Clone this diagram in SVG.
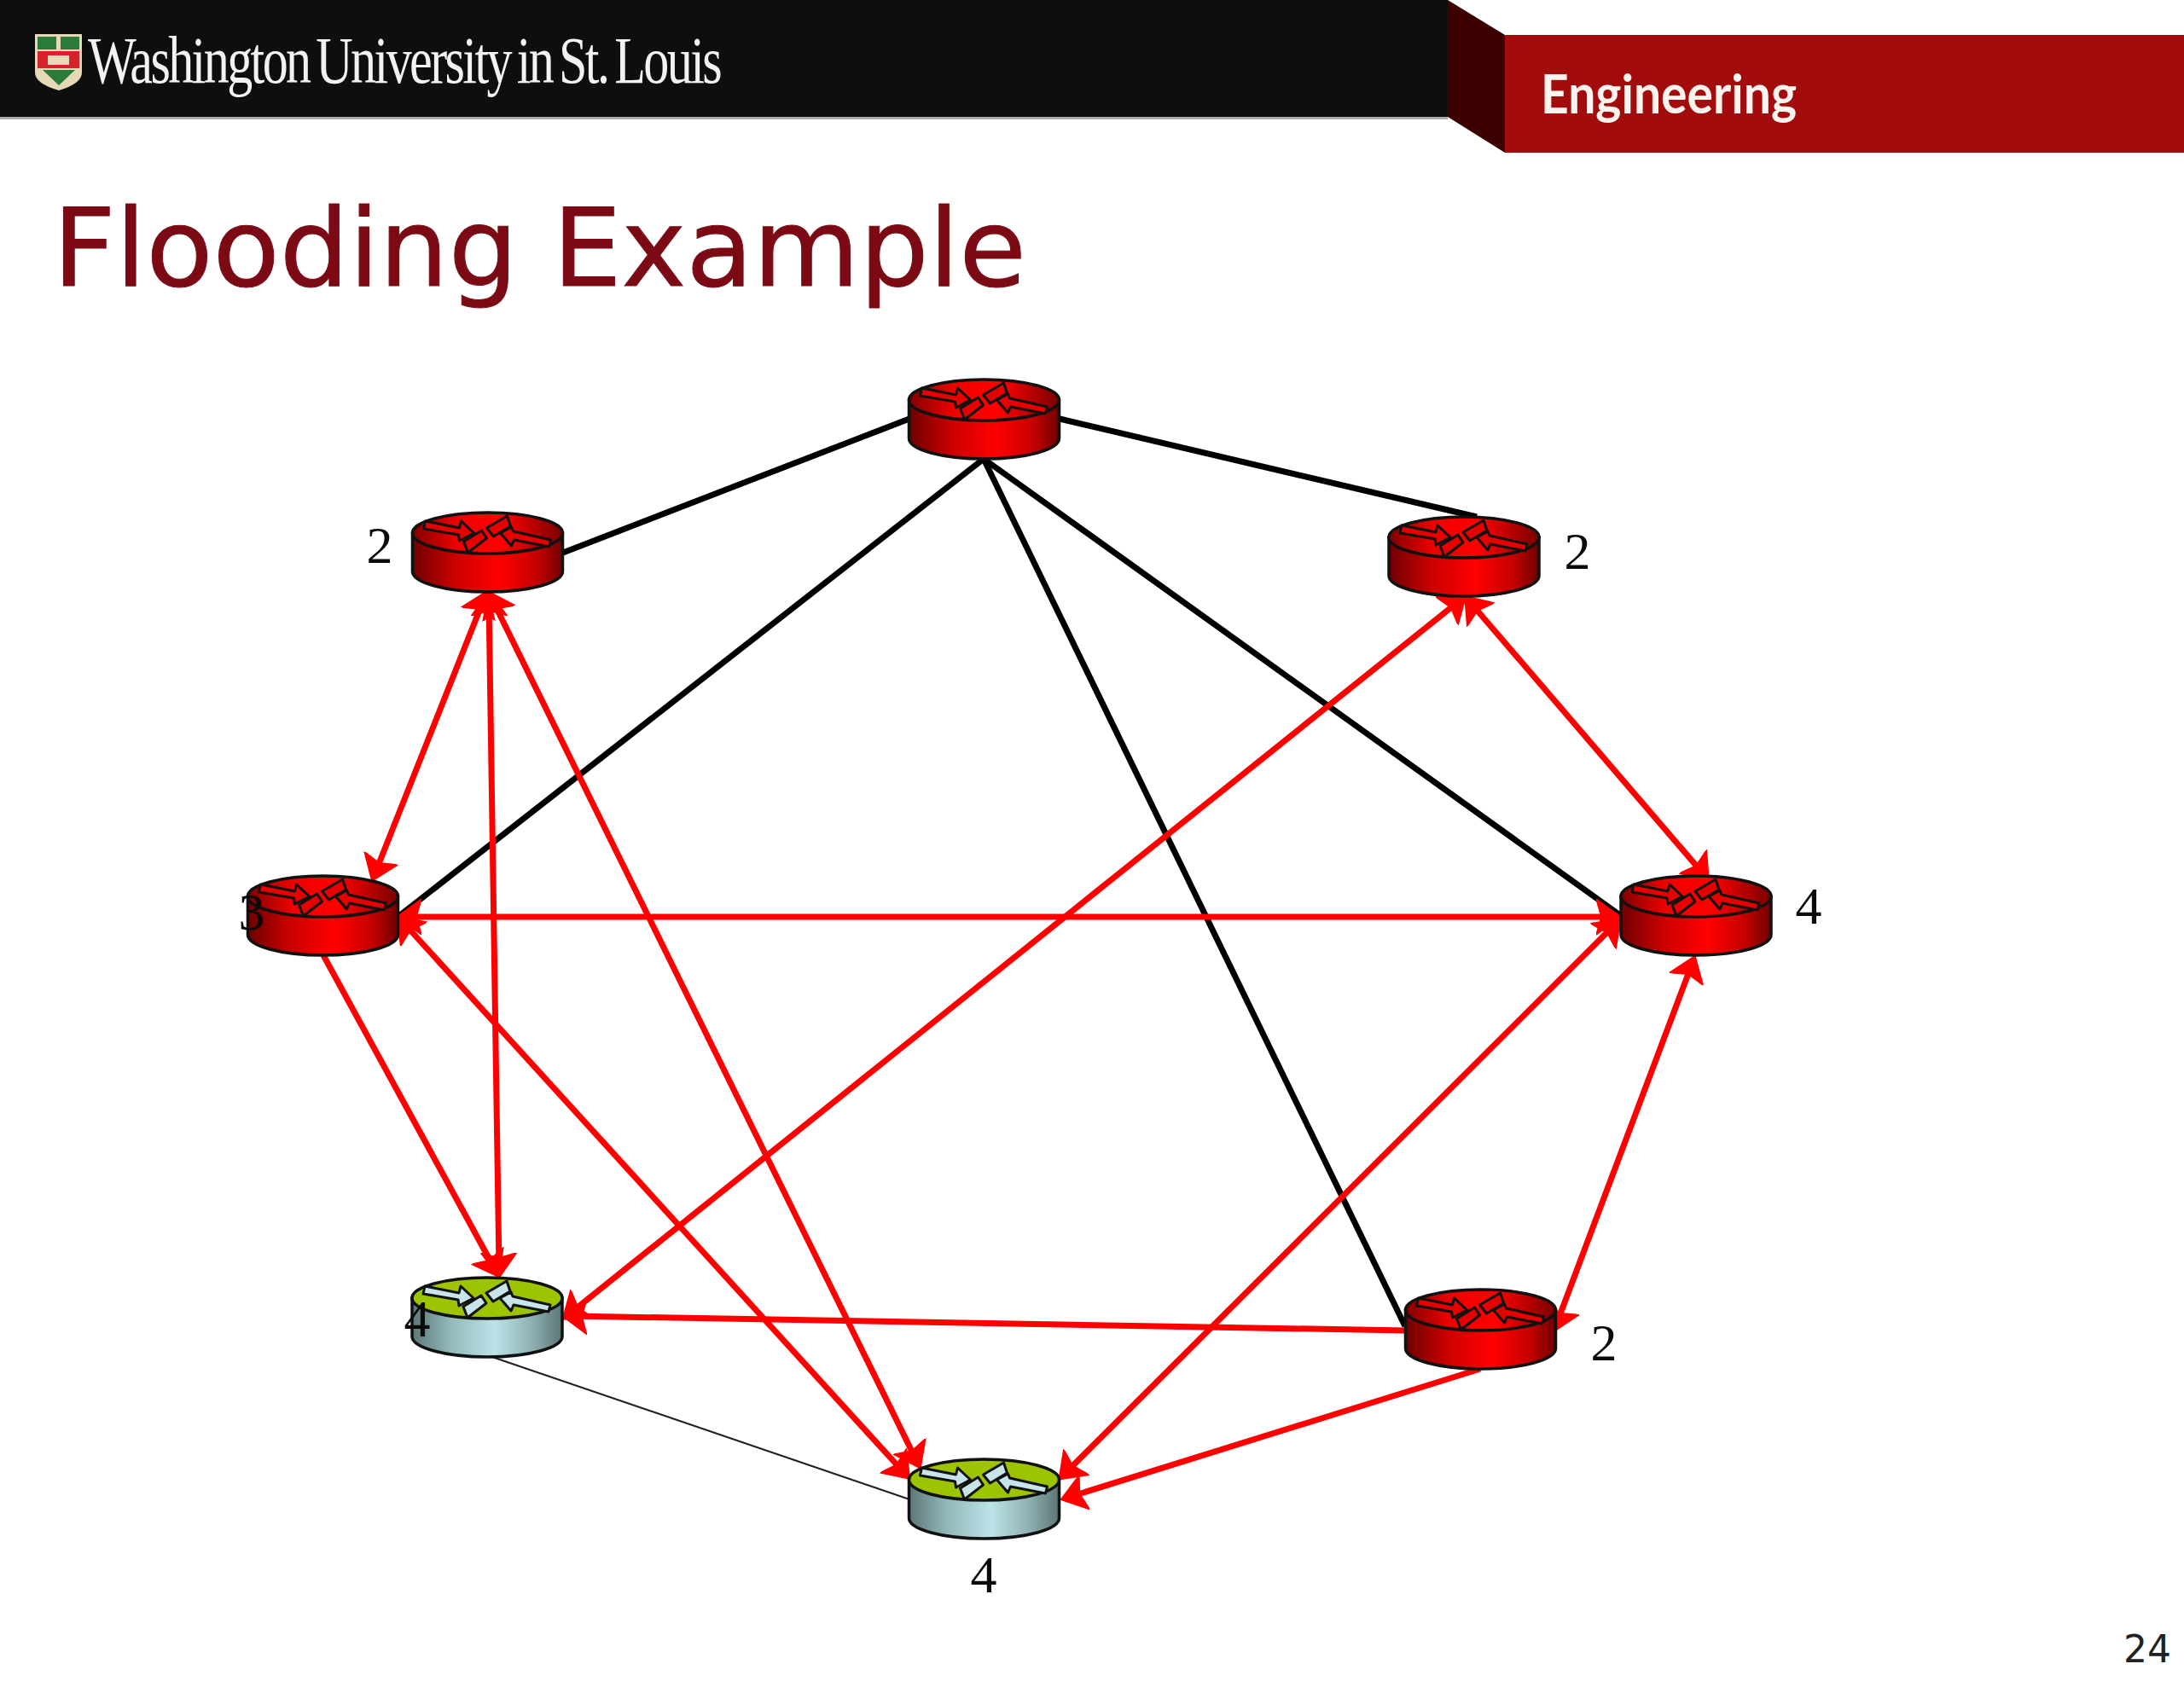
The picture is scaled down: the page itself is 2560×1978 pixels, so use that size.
<svg xmlns="http://www.w3.org/2000/svg" xmlns:xlink="http://www.w3.org/1999/xlink" width="2560" height="1978" viewBox="0 0 2560 1978">
<style>
.lbl{font-family:"Liberation Serif","Times New Roman",serif;font-size:62px;fill:#0a0a0a;text-anchor:middle}
.blk{fill:none;stroke:#000;stroke-width:7}
.red{fill:none;stroke:#ff0000;stroke-width:7;marker-end:url(#ah)}
.both{marker-start:url(#ah)}
.rim{stroke:#111;stroke-width:3.5}
.ga{stroke:#111;stroke-width:3;stroke-linejoin:round}
</style>
<defs>
<marker id="ah" markerUnits="userSpaceOnUse" markerWidth="36" markerHeight="46" refX="18" refY="23" orient="auto-start-reverse" viewBox="0 0 36 46"><path d="M0,2 L29,23 L0,44 L6,23 Z" fill="#ff0000" stroke="#ff0000" stroke-width="1.5" stroke-linejoin="round"/></marker>
<linearGradient id="rs" x1="0" x2="1" y1="0" y2="0"><stop offset="0" stop-color="#6e0000"/><stop offset=".3" stop-color="#d00000"/><stop offset=".58" stop-color="#ff0000"/><stop offset=".82" stop-color="#c80000"/><stop offset="1" stop-color="#700000"/></linearGradient>
<linearGradient id="rt" x1="0" x2="1" y1="0" y2="0"><stop offset="0" stop-color="#800000"/><stop offset=".3" stop-color="#f00000"/><stop offset=".6" stop-color="#ff0000"/><stop offset="1" stop-color="#7a0000"/></linearGradient>
<linearGradient id="gs" x1="0" x2="1" y1="0" y2="0"><stop offset="0" stop-color="#5c7676"/><stop offset=".25" stop-color="#92b8ba"/><stop offset=".55" stop-color="#bce3e8"/><stop offset=".8" stop-color="#8fb0b2"/><stop offset="1" stop-color="#5c7474"/></linearGradient>
<g id="arrows">
<path d="M-73,-14 L-33,-6 L-31,-14 L-16,0 L-33,9 L-34,2 L-75,-5 Z"/>
<path d="M-28,10 L-7,-3 L-1,6 L-23,23 Z"/>
<path d="M-1,-6 L23,-20 L27,-8 L7,4 Z"/>
<path d="M15,0 L28,-7 L30,-2 L74,8 L72,16 L31,8 L28,15 Z"/>
</g>
<g id="router-red">
<path class="rim" d="M-88,0 V45 A88,24 0 0 0 88,45 V0 Z" fill="url(#rs)"/>
<ellipse class="rim" cx="0" cy="0" rx="88" ry="24" fill="url(#rt)"/>
<use xlink:href="#arrows" href="#arrows" class="ga" fill="#e80000"/>
</g>
<g id="router-green">
<path class="rim" d="M-88,0 V45 A88,24 0 0 0 88,45 V0 Z" fill="url(#gs)"/>
<ellipse class="rim" cx="0" cy="0" rx="88" ry="24" fill="#9cc400"/>
<use xlink:href="#arrows" href="#arrows" class="ga" fill="#c6e4ea"/>
</g>
</defs>
<rect width="2560" height="1978" fill="#fff"/>
<g id="header">
<rect x="0" y="0" width="1697" height="137" fill="#0e0e0e"/>
<rect x="0" y="137" width="1697" height="3" fill="#aaa"/>
<path d="M1697,0 L1764,41 V179 L1697,137 Z" fill="#3c0000"/>
<rect x="1764" y="41" width="796" height="138" fill="#a30c0c"/>
<g id="shield">
<path d="M41,40 H96 V85 Q96,98 69,106 Q41,98 41,85 Z" fill="#e6d9b8"/>
<path d="M44,43 H66 V58 H44 Z M71,43 H93 V58 H71 Z M50,82 H88 L69,100 Z" fill="#2a7a3a"/>
<path d="M44,60 H93 V80 H44 Z" fill="#d4232a"/>
<rect x="56" y="65" width="25" height="11" fill="#e6d9b8"/>
</g>
<text x="103" y="97" font-family="Liberation Serif,serif" font-size="78" letter-spacing="-3.4" word-spacing="-6" fill="#f2f2f2" textLength="741" lengthAdjust="spacingAndGlyphs">Washington University in St. Louis</text>
<text x="1806" y="133" font-family="Lato,sans-serif" font-weight="700" font-size="64" fill="#fbf3ee" textLength="300" lengthAdjust="spacingAndGlyphs">Engineering</text>
</g>
<text id="title" x="62" y="335" font-family="DejaVu Sans,sans-serif" font-size="127" fill="#7b0a14" stroke="#7b0a14" stroke-width="1" textLength="1141" lengthAdjust="spacingAndGlyphs">Flooding Example</text>
<g id="connectors">
<path class="blk" d="M1066,491 L660,648"/>
<path class="blk" d="M1242,491 L1731,606"/>
<path class="blk" d="M1153,538 L469,1073"/>
<path class="blk" d="M1153,538 L1899,1073"/>
<path class="blk" d="M1153,538 L1647,1555"/>
<path d="M571,1589 L1066,1758" fill="none" stroke="#222" stroke-width="2.2"/>
<path class="red both" d="M567,703 L440,1023"/>
<path class="red both" d="M573,704 L585,1487"/>
<path class="red both" d="M577,703 L1074,1712"/>
<path class="red both" d="M1710,705 L668,1540"/>
<path class="red both" d="M1724,707 L1996,1024"/>
<path class="red both" d="M476,1075 L1889,1075"/>
<path class="red both" d="M473,1082 L1059,1726"/>
<path class="red" d="M379,1120 L580,1488"/>
<path class="red both" d="M1892,1085 L1249,1727"/>
<path class="red both" d="M1983,1131 L1825,1551"/>
<path class="red" d="M1647,1560 L670,1543"/>
<path class="red" d="M1735,1605 L1254,1755"/>
</g>
<g id="node-top" transform="translate(1153.5,469)"><use xlink:href="#router-red" href="#router-red"/></g>
<g id="node-upper-left" transform="translate(571.5,625)"><use xlink:href="#router-red" href="#router-red"/></g>
<g id="node-upper-right" transform="translate(1716,630)"><use xlink:href="#router-red" href="#router-red"/></g>
<g id="node-mid-left" transform="translate(378.5,1051)"><use xlink:href="#router-red" href="#router-red"/></g>
<g id="node-mid-right" transform="translate(1988,1051)"><use xlink:href="#router-red" href="#router-red"/></g>
<g id="node-lower-right" transform="translate(1735.5,1536)"><use xlink:href="#router-red" href="#router-red"/></g>
<g id="node-lower-left" transform="translate(571,1522)"><use xlink:href="#router-green" href="#router-green"/></g>
<g id="node-bottom" transform="translate(1153.5,1735)"><use xlink:href="#router-green" href="#router-green"/></g>
<g id="labels">
<text class="lbl" x="445" y="660">2</text>
<text class="lbl" x="1849" y="667">2</text>
<text class="lbl" x="295" y="1090">3</text>
<text class="lbl" x="2120" y="1083">4</text>
<text class="lbl" x="489" y="1567">4</text>
<text class="lbl" x="1880" y="1595">2</text>
<text class="lbl" x="1153" y="1867">4</text>
</g>
<text id="page" x="2489" y="1949" font-family="DejaVu Sans,sans-serif" font-size="44" fill="#222">24</text>
</svg>
